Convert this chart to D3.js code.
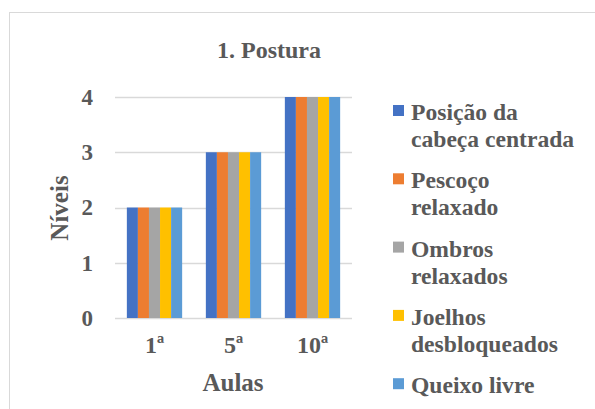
<!DOCTYPE html>
<html>
<head>
<meta charset="utf-8">
<script src="https://cdn.jsdelivr.net/npm/d3@7"></script>
<style>
  body { margin: 0; background: #fff; }
  text, tspan { font-family: "Liberation Serif", "Times New Roman", serif; font-weight: bold; fill: #595959; }
</style>
</head>
<body>
<div id="chart"></div>
<script>
const aulas = ['1ª', '5ª', '10ª'];
const series = [
  'Posição da cabeça centrada',
  'Pescoço relaxado',
  'Ombros relaxados',
  'Joelhos desbloqueados',
  'Queixo livre'
];
const legendLines = [
  ['Posição da', 'cabeça centrada'],
  ['Pescoço', 'relaxado'],
  ['Ombros', 'relaxados'],
  ['Joelhos', 'desbloqueados'],
  ['Queixo livre']
];
const valores = [
  [2, 3, 4],
  [2, 3, 4],
  [2, 3, 4],
  [2, 3, 4],
  [2, 3, 4]
];
const yTicks = [0, 1, 2, 3, 4];
const colors = ['#4472C4', '#ED7D31', '#A5A5A5', '#FFC000', '#5B9BD5'];

const width = 595, height = 409;
const svg = d3.select('#chart').append('svg')
  .attr('width', width)
  .attr('height', height);

// moldura
svg.append('rect')
  .attr('x', 9.5).attr('y', 12.5)
  .attr('width', 600).attr('height', 420)
  .attr('fill', '#fff')
  .attr('stroke', '#D9D9D9');

const plot = { left: 115, right: 352, top: 97, bottom: 318 };

const x = d3.scaleBand()
  .domain(aulas)
  .range([plot.left, plot.right])
  .paddingInner(0.3)
  .paddingOuter(0.15);

const xs = d3.scaleBand()
  .domain(series)
  .range([0, x.bandwidth()]);

const y = d3.scaleLinear()
  .domain([0, 4])
  .range([plot.bottom, plot.top]);

// gridlines
svg.append('g')
  .selectAll('line')
  .data(yTicks)
  .join('line')
  .attr('x1', plot.left).attr('x2', plot.right)
  .attr('y1', d => Math.round(y(d)) + 0.5)
  .attr('y2', d => Math.round(y(d)) + 0.5)
  .attr('stroke', '#D9D9D9')
  .attr('stroke-width', 1.3);

// barras
const rows = [];
aulas.forEach((a, i) => {
  series.forEach((s, j) => rows.push({ aula: a, serie: s, v: valores[j][i], c: colors[j] }));
});

svg.append('g')
  .selectAll('rect')
  .data(rows)
  .join('rect')
  .attr('x', d => x(d.aula) + xs(d.serie))
  .attr('y', d => y(d.v))
  .attr('width', xs.bandwidth())
  .attr('height', d => y(0) - y(d.v))
  .attr('fill', d => d.c);

// eixo y
const yAxis = d3.axisLeft(y).tickValues(yTicks).tickFormat(d3.format('d')).tickSize(0).tickPadding(22);
const gy = svg.append('g')
  .attr('transform', `translate(${plot.left},0)`)
  .call(yAxis);
gy.attr('font-family', null).attr('font-size', null);
gy.select('.domain').remove();
gy.selectAll('text')
  .style('font-size', '23px')
  .attr('fill', '#595959');

// eixo x
const xAxis = d3.axisBottom(x).tickSize(0).tickPadding(18);
const gx = svg.append('g')
  .attr('transform', `translate(0,${plot.bottom})`)
  .call(xAxis);
gx.attr('font-family', null).attr('font-size', null);
gx.select('.domain').remove();
gx.selectAll('text')
  .style('font-size', '24px')
  .attr('fill', '#595959');

// título
svg.append('text')
  .attr('x', 269).attr('y', 58)
  .attr('text-anchor', 'middle')
  .style('font-size', '24px')
  .text('1. Postura');

svg.append('text')
  .attr('x', 233).attr('y', 391)
  .attr('text-anchor', 'middle')
  .style('font-size', '25px')
  .text('Aulas');

svg.append('text')
  .attr('transform', 'translate(68,208) rotate(-90)')
  .attr('text-anchor', 'middle')
  .style('font-size', '25px')
  .text('Níveis');

// legenda
const legend = svg.append('g')
  .selectAll('g')
  .data(series)
  .join('g')
  .attr('transform', (d, i) => `translate(393,${120 + i * 68.3})`);

legend.append('rect')
  .attr('x', 0).attr('y', -15)
  .attr('width', 11).attr('height', 11)
  .attr('fill', (d, i) => colors[i]);

legend.append('text')
  .attr('x', 18)
  .style('font-size', '23.6px')
  .selectAll('tspan')
  .data((d, i) => legendLines[i])
  .join('tspan')
  .attr('x', 18)
  .attr('dy', (d, k) => k === 0 ? 0 : 27)
  .text(d => d);
</script>
</body>
</html>
